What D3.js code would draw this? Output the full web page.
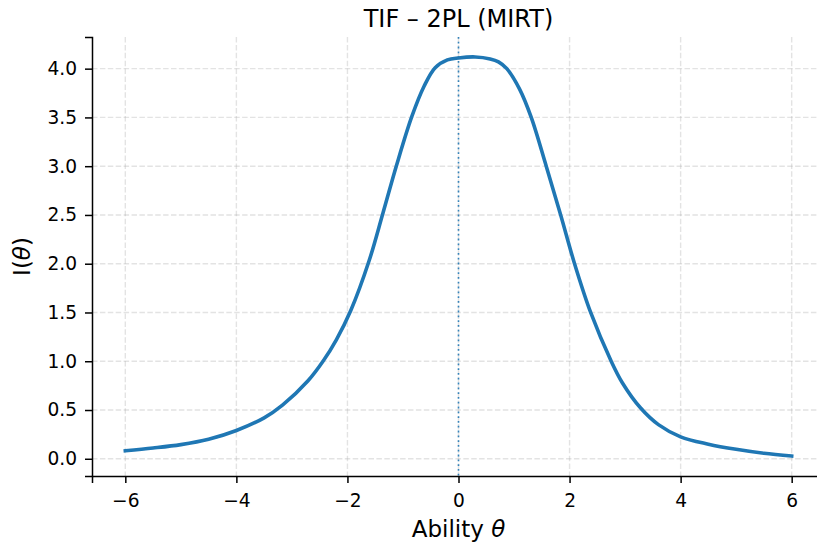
<!DOCTYPE html>
<html>
<head>
<meta charset="utf-8">
<script src="https://cdn.jsdelivr.net/npm/d3@7"></script>
<style>
  body { margin: 0; background: #fff; }
  svg { display: block; }
  text { font-family: "DejaVu Sans", sans-serif; }
</style>
</head>
<body>
<script>
// test information function
var theta = [-6, -5.5, -5, -4.5, -4, -3.5, -3.17, -2.71, -2.44, -2.2, -1.94, -1.61, -1.36, -1.11, -0.84, -0.62, -0.42, -0.2, 0, 0.3, 0.57, 0.72, 0.87, 1.1, 1.31, 1.58, 1.84, 2.09, 2.38, 2.75, 2.95, 3.28, 3.6, 4, 4.5, 5, 5.5, 6];
var info = [0.082, 0.11, 0.145, 0.2, 0.29, 0.42, 0.55, 0.80, 1.0, 1.22, 1.52, 2.03, 2.52, 3.02, 3.51, 3.82, 4.01, 4.09, 4.11, 4.12, 4.10, 4.07, 4.0, 3.79, 3.5, 3.0, 2.5, 2.0, 1.5, 1.0, 0.78, 0.52, 0.35, 0.225, 0.15, 0.097, 0.056, 0.028];
var xTicks = [-6, -4, -2, 0, 2, 4, 6];
var yTicks = [0, 0.5, 1, 1.5, 2, 2.5, 3, 3.5, 4];

var width = 817, height = 550;
var plotL = 92, plotR = 825, plotT = 37, plotB = 476;

var data = theta.map(function(t, i) { return [t, info[i]]; });

function padded(ext) {
    var m = (ext[1] - ext[0]) * 0.05;
    return [ext[0] - m, ext[1] + m];
}

var x = d3.scaleLinear().domain(padded(d3.extent(theta))).range([plotL, plotR]);
var y = d3.scaleLinear().domain(padded(d3.extent(info))).range([plotB, plotT]);

var svg = d3.select("body").append("svg")
    .attr("width", width)
    .attr("height", height);

// grid
var grid = svg.append("g")
    .attr("stroke", "#b0b0b0")
    .attr("stroke-opacity", 0.35)
    .attr("stroke-width", 1.4)
    .attr("stroke-dasharray", "5.5,2.4");

grid.selectAll(".gx")
    .data(xTicks)
    .enter().append("line")
    .attr("x1", function(d) { return x(d); })
    .attr("x2", function(d) { return x(d); })
    .attr("y1", plotT)
    .attr("y2", plotB);

grid.selectAll(".gy")
    .data(yTicks)
    .enter().append("line")
    .attr("x1", plotL)
    .attr("x2", plotR)
    .attr("y1", function(d) { return y(d); })
    .attr("y2", function(d) { return y(d); });

// dotted line at theta = 0
svg.append("line")
    .attr("x1", x(0)).attr("x2", x(0))
    .attr("y1", plotT).attr("y2", plotB)
    .attr("stroke", "#1f77b4")
    .attr("stroke-opacity", 0.9)
    .attr("stroke-width", 1.6)
    .attr("stroke-dasharray", "1.8,3");

// curve
var line = d3.line()
    .x(function(d) { return x(d[0]); })
    .y(function(d) { return y(d[1]); })
    .curve(d3.curveCatmullRom.alpha(0.5));

svg.append("path")
    .datum(data)
    .attr("fill", "none")
    .attr("stroke", "#1f77b4")
    .attr("stroke-width", 3.6)
    .attr("stroke-linecap", "square")
    .attr("stroke-linejoin", "round")
    .attr("d", line);

function fmtX(d) { return d < 0 ? "\u2212" + Math.abs(d) : String(d); }

var xAxis = svg.append("g")
    .attr("transform", "translate(0," + plotB + ")")
    .call(d3.axisBottom(x).tickValues(xTicks).tickFormat(fmtX).tickSize(7).tickPadding(10.5));

var yAxis = svg.append("g")
    .attr("transform", "translate(" + plotL + ",0)")
    .call(d3.axisLeft(y).tickValues(yTicks).tickFormat(d3.format(".1f")).tickSize(7).tickPadding(8));

[xAxis, yAxis].forEach(function(a) {
    a.select(".domain").attr("stroke", "#000").attr("stroke-width", 1.5);
    a.selectAll(".tick line").attr("stroke", "#000").attr("stroke-width", 1.5);
    a.selectAll(".tick text").attr("fill", "#000")
        .style("font-size", "18.6px")
        .style("font-family", "'DejaVu Sans', sans-serif");
});

// title and labels
svg.append("text")
    .attr("x", (plotL + plotR) / 2)
    .attr("y", 27)
    .attr("text-anchor", "middle")
    .style("font-size", "24px")
    .text("TIF \u2013 2PL (MIRT)");

var xl = svg.append("text")
    .attr("x", (plotL + plotR) / 2)
    .attr("y", 537)
    .attr("text-anchor", "middle")
    .style("font-size", "23px");
xl.append("tspan").text("Ability ");
xl.append("tspan").style("font-style", "italic").text("\u03b8");

var yl = svg.append("text")
    .attr("transform", "translate(30," + (plotT + plotB) / 2 + ") rotate(-90)")
    .attr("text-anchor", "middle")
    .style("font-size", "23px");
yl.append("tspan").text("I(");
yl.append("tspan").style("font-style", "italic").text("\u03b8");
yl.append("tspan").text(")");
</script>
</body>
</html>
